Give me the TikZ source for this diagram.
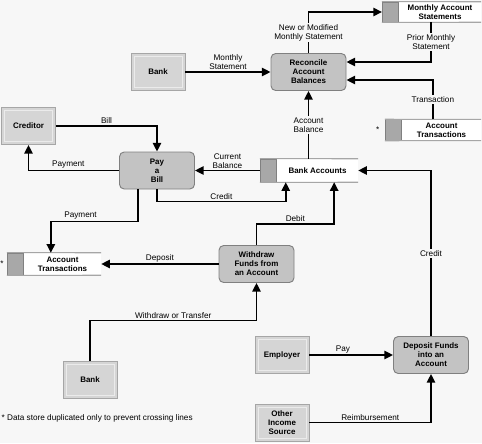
\documentclass[tikz,border=0pt]{standalone}
\usepackage{fontspec}
\setmainfont{Liberation Sans}
\usetikzlibrary{arrows.meta}

\definecolor{bgcol}{HTML}{F7F7F7}
\definecolor{entfill}{HTML}{D5D5D5}
\definecolor{procfill}{HTML}{C3C3C3}
\definecolor{tabfill}{HTML}{A8A8A8}

\tikzset{
  flow/.style={line width=1.5pt,-{Triangle[length=2.6mm,width=2.5mm]}},
  lbl/.style={font=\fontsize{7}{7.8}\selectfont,inner sep=1.2pt,align=center},
  boxtext/.style={font=\fontsize{6.8}{7.6}\selectfont\bfseries,align=center,inner sep=0pt},
  entity/.style={boxtext,draw=black!35,fill=entfill,line width=0.8pt,minimum width=1.62cm,minimum height=1.11cm,
    path picture={\draw[black!8,line width=0.6pt] ([shift={(0.09cm,-0.09cm)}]path picture bounding box.north west)
      rectangle ([shift={(-0.09cm,0.09cm)}]path picture bounding box.south east);}},
  process/.style={boxtext,draw=black!50,fill=procfill,line width=0.8pt,rounded corners=4pt,minimum width=2.25cm,minimum height=1.11cm},
  store/.style={boxtext,fill=white,minimum height=0.66cm},
  storetab/.style={draw=black!50,fill=tabfill,line width=0.7pt,minimum width=0.48cm,anchor=east,inner sep=0pt},
  storeline/.style={draw=black!35,line width=0.9pt}
}

\begin{document}
\begin{tikzpicture}[x=0.03cm,y=-0.03cm]
\path[use as bounding box,fill=bgcol] (0,0) rectangle (482,443);

% External entities
\node[entity] (bankt) at (158,72) {Bank};
\node[entity] (cred) at (28.5,126) {Creditor};
\node[entity] (bankb) at (90,379.5) {Bank};
\node[entity] (empl) at (282,355) {Employer};
\node[entity] (other) at (282,422.5) {Other\\Income\\Source};

% Processes
\node[process] (recon) at (308.5,72) {Reconcile\\Account\\Balances};
\node[process] (paybill) at (157,170.5) {Pay\\a\\Bill};
\node[process] (withdraw) at (256.5,264) {Withdraw\\Funds from\\an Account};
\node[process] (deposit) at (431,355) {Deposit Funds\\into an\\Account};

% Data stores
\node[store,minimum width=2.46cm,minimum height=0.6cm] (mas) at (440,12) {Monthly Account\\Statements};
\node[store,minimum width=2.37cm,minimum height=0.62cm] (atr) at (441.5,130) {Account\\Transactions};
\node[store,minimum width=2.43cm,minimum height=0.69cm] (bacc) at (317.5,170.5) {Bank Accounts};
\node[store,minimum width=2.31cm] (atl) at (62.5,264) {Account\\Transactions};
\node[storetab,minimum height=0.6cm] (mas-tab) at (mas.west) {};
\node[storetab,minimum height=0.62cm] (atr-tab) at (atr.west) {};
\node[storetab,minimum height=0.69cm] (bacc-tab) at (bacc.west) {};
\node[storetab,minimum height=0.66cm] (atl-tab) at (atl.west) {};
\foreach \s in {mas,atr,bacc,atl}
  \draw[storeline] (\s-tab.north west) -- (\s.north east) (\s-tab.south west) -- (\s.south east);

% Duplicate marks and note
\node[lbl,anchor=east] (astr) at ([xshift=-0.12cm]atr-tab.west) {*};
\node[lbl,anchor=east] (astl) at ([xshift=-0.05cm]atl-tab.west) {*};
\node[lbl,anchor=west] (note) at (0,418) {* Data store duplicated only to prevent crossing lines};

% Data flows
\draw[flow] (bankt) -- node[lbl,above] (l-mstmt) {Monthly\\Statement} (recon);
\draw[flow] (recon.north) |- node[lbl,pos=0.25,fill=bgcol] (l-newst) {New or Modified\\Monthly Statement} (mas-tab.west);
\draw[flow] ([xshift=-0.27cm]mas.south) |- node[lbl,pos=0.25,fill=bgcol] (l-prior) {Prior Monthly\\Statement} ([yshift=0.3cm]recon.east);
\draw[flow] ([xshift=-0.26cm]atr.north) |- node[lbl,pos=0.25,fill=bgcol] (l-trans) {Transaction} ([yshift=-0.24cm]recon.east);
\draw[flow] (recon.south |- bacc.north) -- node[lbl,fill=bgcol] (l-abal) {Account\\Balance} (recon.south);
\draw[flow] (cred.east) -| node[lbl,above,pos=0.25] (l-bill) {Bill} (paybill.north);
\draw[flow] (paybill.west) -| node[lbl,above,pos=0.28] (l-pay1) {Payment} (cred.south);
\draw[flow] (bacc-tab.west) -- node[lbl,above] (l-curbal) {Current\\Balance} (paybill.east);
\draw[flow] (paybill.south) -- ++(0,12) -| node[lbl,above,pos=0.25] (l-cred1) {Credit} ([xshift=0.27cm]bacc.south west);
\draw[flow] ([xshift=-0.57cm]paybill.south) -- ++(0,32) -| node[lbl,above,pos=0.33] (l-pay2) {Payment} ([xshift=-0.35cm]atl.north);
\draw[flow] (withdraw.west) -- node[lbl,above] (l-dep) {Deposit} (atl.east);
\draw[flow] (withdraw.north) -- ++(0,-21) -| node[lbl,above,pos=0.25] (l-debit) {Debit} ([xshift=0.5cm]bacc.south);
\draw[flow] (bankb.north) -- ++(0,-40) -| node[lbl,above,pos=0.25] (l-wdtr) {Withdraw or Transfer} (withdraw.south);
\draw[flow] (empl) -- node[lbl,above,pos=0.4] (l-pay3) {Pay} (deposit);
\draw[flow] (other.east) -| node[lbl,above,pos=0.25] (l-reimb) {Reimbursement} (deposit.south);
\draw[flow] (deposit.north) |- node[lbl,pos=0.25,fill=bgcol] (l-cred2) {Credit} (bacc.east);
\end{tikzpicture}
\end{document}
